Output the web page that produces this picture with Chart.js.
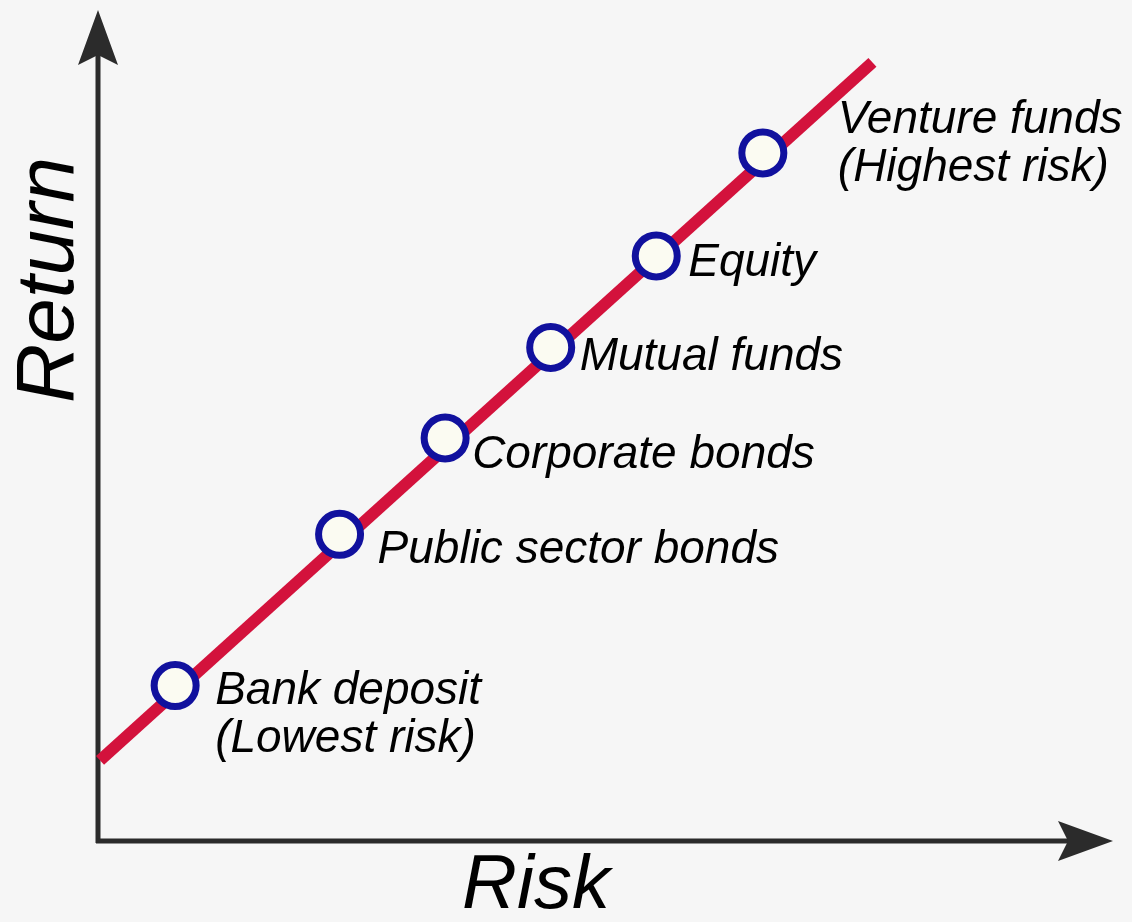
<!DOCTYPE html>
<html>
<head>
<meta charset="utf-8">
<script src="https://cdn.jsdelivr.net/npm/chart.js@4"></script>
<style>
  body { margin: 0; background: #f6f6f6; }
  #wrap { width: 1132px; height: 922px; }
</style>
</head>
<body>
<div id="wrap"><canvas id="riskReturn" width="1132" height="922"></canvas></div>
<script>
// investments, lowest to highest risk
const categories = [
    ['Bank deposit', '(Lowest risk)'],
    ['Public sector bonds'],
    ['Corporate bonds'],
    ['Mutual funds'],
    ['Equity'],
    ['Venture funds', '(Highest risk)']
];
const riskValues = [0.76, 2.38, 3.42, 4.46, 5.50, 6.55];
const returnValues = [1.87, 3.69, 4.85, 5.94, 7.04, 8.28];

// trend line ends
const trendRisk = [0.02, 7.63];
const trendReturn = [0.97, 9.37];

const points = riskValues.map((x, i) => ({ x: x, y: returnValues[i] }));
const trend = trendRisk.map((x, i) => ({ x: x, y: trendReturn[i] }));

// where each label sits, relative to its point (px)
const labelOffsets = [[40, 6], [38, 16], [27, 17], [29, 10], [32, 7], [75, -33]];

const axesAndText = {
    id: 'axesAndText',
    beforeDatasetsDraw(chart) {
        const ctx = chart.ctx;
        const a = chart.chartArea;
        ctx.save();
        ctx.strokeStyle = '#2b2b2b';
        ctx.fillStyle = '#2b2b2b';
        ctx.lineWidth = 5;
        // y axis
        ctx.beginPath();
        ctx.moveTo(a.left, a.bottom + 2);
        ctx.lineTo(a.left, a.top + 40);
        ctx.stroke();
        ctx.beginPath();
        ctx.moveTo(a.left, a.top);
        ctx.lineTo(a.left + 20, a.top + 55);
        ctx.lineTo(a.left, a.top + 45);
        ctx.lineTo(a.left - 20, a.top + 55);
        ctx.closePath();
        ctx.fill();
        // x axis
        ctx.beginPath();
        ctx.moveTo(a.left - 2, a.bottom);
        ctx.lineTo(a.right - 40, a.bottom);
        ctx.stroke();
        ctx.beginPath();
        ctx.moveTo(a.right, a.bottom);
        ctx.lineTo(a.right - 55, a.bottom - 20);
        ctx.lineTo(a.right - 45, a.bottom);
        ctx.lineTo(a.right - 55, a.bottom + 20);
        ctx.closePath();
        ctx.fill();

        // axis titles
        ctx.fillStyle = '#000';
        ctx.textAlign = 'center';
        ctx.textBaseline = 'middle';
        ctx.font = 'italic 76px "Liberation Sans", Arial, sans-serif';
        ctx.fillText('Risk', 536, a.bottom + 46);
        ctx.save();
        ctx.translate(50, 280);
        ctx.rotate(-Math.PI / 2);
        ctx.font = 'italic 82px "Liberation Sans", Arial, sans-serif';
        ctx.fillText('Return', 0, 0);
        ctx.restore();
        ctx.restore();
    },
    afterDatasetsDraw(chart) {
        const ctx = chart.ctx;
        const meta = chart.getDatasetMeta(1);
        ctx.save();
        ctx.fillStyle = '#000';
        ctx.font = 'italic 46px "Liberation Sans", Arial, sans-serif';
        ctx.textAlign = 'left';
        ctx.textBaseline = 'middle';
        meta.data.forEach((pt, i) => {
            const off = labelOffsets[i];
            categories[i].forEach((line, j) => {
                ctx.fillText(line, pt.x + off[0], pt.y + off[1] + j * 48);
            });
        });
        ctx.restore();
    }
};

const riskReturn = document.getElementById('riskReturn').getContext('2d');
const myChart = new Chart(riskReturn, {
    type: 'scatter',
    data: {
        datasets: [{
            label: 'Trend',
            data: trend,
            showLine: true,
            borderColor: '#d3123c',
            borderWidth: 12,
            pointRadius: 0,
            clip: false,
            order: 2
        }, {
            label: 'Investments',
            data: points,
            pointRadius: 21,
            pointBorderWidth: 7,
            pointBackgroundColor: '#fbfbf2',
            pointBorderColor: '#11119e',
            clip: false,
            order: 1
        }]
    },
    options: {
        responsive: false,
        animation: false,
        layout: {
            autoPadding: false,
            padding: { left: 98, right: 19, top: 10, bottom: 81 }
        },
        scales: {
            x: { type: 'linear', min: 0, max: 10, display: false },
            y: { type: 'linear', min: 0, max: 10, display: false }
        },
        plugins: {
            legend: { display: false },
            tooltip: { enabled: false }
        }
    },
    plugins: [axesAndText]
});
</script>
</body>
</html>
